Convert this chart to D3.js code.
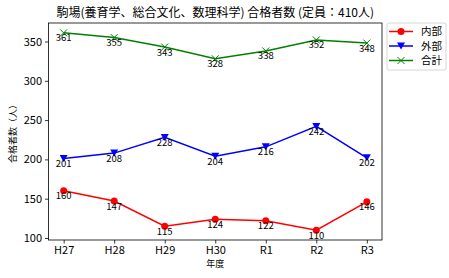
<!DOCTYPE html>
<html>
<head>
<meta charset="utf-8">
<script src="https://cdn.jsdelivr.net/npm/d3@7"></script>
<style>
  body { margin: 0; background: #fff; }
  svg { font-family: "Noto Sans CJK JP", sans-serif; }
</style>
</head>
<body>
<div id="chart"></div>
<script>
const years = ["H27", "H28", "H29", "H30", "R1", "R2", "R3"]
const naibu = [160, 147, 115, 124, 122, 110, 146]
const gaibu = [201, 208, 228, 204, 216, 242, 202]
const goukei = [361, 355, 343, 328, 338, 352, 348]
const yTicks = [100, 150, 200, 250, 300, 350]

const series = [
  {name: "内部", values: naibu, color: "#ff0000", marker: "circle"},
  {name: "外部", values: gaibu, color: "#0000ff", marker: "tri"},
  {name: "合計", values: goukei, color: "#008000", marker: "x"}
]

const W = 449, H = 278
const MARGIN = {top: 23, right: 67, bottom: 38, left: 48.5}
const PW = W - MARGIN.left - MARGIN.right
const PH = H - MARGIN.top - MARGIN.bottom

const svg = d3.select("#chart").append("svg")
  .attr("width", W).attr("height", H)

const g = svg.append("g")
  .attr("transform", "translate(" + MARGIN.left + "," + MARGIN.top + ")")

const n = years.length
const x = d3.scaleLinear().domain([-0.3, n - 1 + 0.3]).range([0, PW])
const all = naibu.concat(gaibu, goukei)
const lo = d3.min(all), hi = d3.max(all), pad = (hi - lo) * 0.05
const y = d3.scaleLinear().domain([lo - pad, hi + pad]).range([PH, 0])

// axes
const xAxis = g.append("g")
  .attr("transform", "translate(0," + PH + ")")
  .call(d3.axisBottom(x).tickValues(d3.range(n)).tickFormat(i => years[i]).tickSize(3.5).tickPadding(3))
const yAxis = g.append("g")
  .call(d3.axisLeft(y).tickValues(yTicks).tickSize(3.5).tickPadding(3))
;[xAxis, yAxis].forEach(a => {
  a.select(".domain").remove()
  a.selectAll("text").attr("font-size", 11).attr("fill", "#000").attr("font-family", "Noto Sans CJK JP")
  a.selectAll("line").attr("stroke", "#000").attr("stroke-width", 0.8)
})

g.append("rect")
  .attr("width", PW).attr("height", PH)
  .attr("fill", "none").attr("stroke", "#000").attr("stroke-width", 0.8)

function drawMarker(sel, type, color, cx, cy) {
  if (type === "circle") {
    sel.append("circle").attr("cx", cx).attr("cy", cy).attr("r", 3.5).attr("fill", color)
  } else if (type === "tri") {
    sel.append("path")
      .attr("d", `M${cx - 4},${cy - 3.5}L${cx + 4},${cy - 3.5}L${cx},${cy + 3.5}Z`)
      .attr("fill", color)
  } else {
    sel.append("path")
      .attr("d", `M${cx - 3.5},${cy - 3.5}L${cx + 3.5},${cy + 3.5}M${cx - 3.5},${cy + 3.5}L${cx + 3.5},${cy - 3.5}`)
      .attr("stroke", color).attr("stroke-width", 1)
  }
}

const line = d3.line().x((d, i) => x(i)).y(d => y(d))

series.forEach(s => {
  g.append("path")
    .attr("d", line(s.values))
    .attr("fill", "none").attr("stroke", s.color).attr("stroke-width", 1.5)
  s.values.forEach((v, i) => drawMarker(g, s.marker, s.color, x(i), y(v)))
  g.selectAll(null).data(s.values).enter().append("text")
    .attr("x", (d, i) => x(i))
    .attr("y", d => y(d) + 8.5)
    .attr("text-anchor", "middle")
    .attr("font-size", 9.5)
    .text(d => d)
})

// title and labels
svg.append("text")
  .attr("x", MARGIN.left + PW / 2).attr("y", 17)
  .attr("text-anchor", "middle").attr("font-size", 12)
  .text("駒場(養育学、総合文化、数理科学) 合格者数 (定員：410人)")

svg.append("text")
  .attr("x", MARGIN.left + PW / 2).attr("y", 267)
  .attr("text-anchor", "middle").attr("font-size", 9)
  .text("年度")

svg.append("text")
  .attr("transform", "translate(16," + (MARGIN.top + PH / 2) + ") rotate(-90)")
  .attr("text-anchor", "middle").attr("font-size", 9)
  .text("合格者数（人）")

// legend
const lg = svg.append("g").attr("transform", "translate(387,23)")
lg.append("rect")
  .attr("width", 59).attr("height", 47).attr("rx", 2)
  .attr("fill", "#fff").attr("stroke", "#ccc").attr("stroke-width", 0.8)
series.forEach((s, i) => {
  const cy = 8.5 + i * 14.5
  lg.append("line").attr("x1", 2).attr("x2", 26).attr("y1", cy).attr("y2", cy)
    .attr("stroke", s.color).attr("stroke-width", 1.5)
  drawMarker(lg, s.marker, s.color, 14, cy)
  lg.append("text").attr("x", 34).attr("y", cy + 3.5).attr("font-size", 10.5).text(s.name)
})
</script>
</body>
</html>
